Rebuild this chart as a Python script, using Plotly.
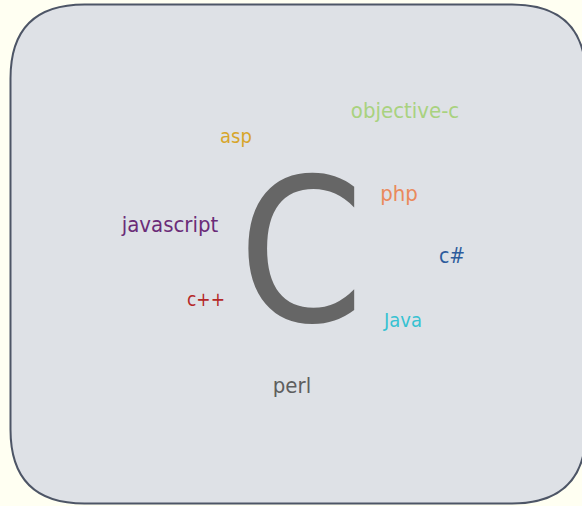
import plotly.graph_objects as go

# word cloud data
words = ["objective-c", "asp", "php", "javascript", "c#", "c++", "Java", "perl"]
weights = [22, 20, 22, 22, 21, 19, 20, 22]
word_x = [405, 236, 399, 170, 452, 206, 403, 292]
word_y = [112, 138, 195, 226, 258, 301, 322, 387]
colors = ["#a9d27f", "#d7a52a", "#ea8a5c", "#6b2c78", "#2d5b9c", "#b52828", "#36c2d2", "#5e5e5e"]

center_word = ["C"]
center_x = [301]
center_y = [271]
center_color = "#666666"

W, H = 582, 506

fig = go.Figure()

# rounded panel
x0, x1, y0, y1, r = 10.5, 586, 4.5, 503.5, 74
path = (f"M {x0+r},{y0} L {x1-r},{y0} Q {x1},{y0} {x1},{y0+r} "
        f"L {x1},{y1-r} Q {x1},{y1} {x1-r},{y1} "
        f"L {x0+r},{y1} Q {x0},{y1} {x0},{y1-r} "
        f"L {x0},{y0+r} Q {x0},{y0} {x0+r},{y0} Z")
fig.add_shape(type="path", path=path, xref="x", yref="y",
              fillcolor="#dee1e6", line=dict(color="#4d5566", width=2), layer="below")

font_fam = "DejaVu Sans Condensed, Liberation Sans Narrow, DejaVu Sans, sans-serif"

fig.add_trace(go.Scatter(
    x=center_x, y=center_y, mode="text", text=center_word,
    textfont=dict(size=200, color=center_color, family=font_fam),
    hoverinfo="skip", showlegend=False))

fig.add_trace(go.Scatter(
    x=word_x, y=word_y, mode="text", text=words,
    textfont=dict(size=weights, color=colors, family=font_fam),
    hoverinfo="text", showlegend=False))

fig.update_layout(
    width=W, height=H, margin=dict(l=0, r=0, t=0, b=0),
    paper_bgcolor="#fffff2", plot_bgcolor="rgba(0,0,0,0)",
    xaxis=dict(range=[0, W], visible=False, fixedrange=True),
    yaxis=dict(range=[H, 0], visible=False, fixedrange=True),
)

fig.write_html(
    "out.html",
    config={"displayModeBar": False},
    post_script="document.body.style.margin='0';document.body.style.background='#fffff2';",
)
